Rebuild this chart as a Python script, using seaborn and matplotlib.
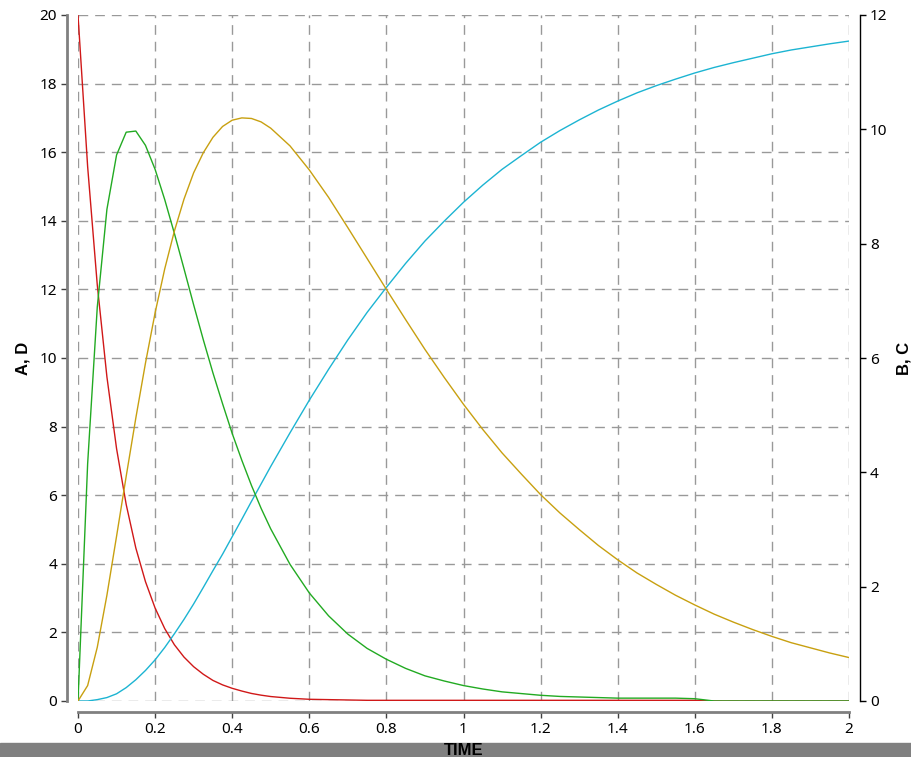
import matplotlib
matplotlib.use("Agg")
import matplotlib.pyplot as plt
from matplotlib.patches import Rectangle
import seaborn as sns
import pandas as pd

# sample times
time = [0, 0.025, 0.05, 0.075, 0.1, 0.125, 0.15, 0.175, 0.2, 0.225, 0.25,
        0.275, 0.3, 0.325, 0.35, 0.375, 0.4, 0.425, 0.45, 0.475, 0.5,
        0.55, 0.6, 0.65, 0.7, 0.75, 0.8, 0.85, 0.9, 0.95, 1.0,
        1.05, 1.1, 1.15, 1.2, 1.25, 1.3, 1.35, 1.4, 1.45, 1.5,
        1.55, 1.6, 1.65, 1.7, 1.75, 1.8, 1.85, 1.9, 1.95, 2.0]

# left axis (A, D)
conc_a = [20.0, 15.58, 12.13, 9.45, 7.36, 5.73, 4.46, 3.48, 2.71, 2.11, 1.64,
          1.28, 1.00, 0.78, 0.60, 0.47, 0.37, 0.29, 0.22, 0.17, 0.13,
          0.08, 0.05, 0.04, 0.03, 0.02, 0.02, 0.02, 0.02, 0.02, 0.02,
          0.02, 0.02, 0.02, 0.02, 0.02, 0.02, 0.02, 0.02, 0.02, 0.02,
          0.02, 0.02, 0.0, 0.0, 0.0, 0.0, 0.0, 0.0, 0.0, 0.0]
conc_d = [0.0, 0.0, 0.04, 0.10, 0.21, 0.39, 0.62, 0.89, 1.20, 1.56, 1.96,
          2.38, 2.83, 3.31, 3.80, 4.28, 4.79, 5.30, 5.82, 6.33, 6.84,
          7.82, 8.77, 9.67, 10.53, 11.33, 12.06, 12.76, 13.41, 13.99, 14.54,
          15.04, 15.50, 15.90, 16.29, 16.63, 16.94, 17.23, 17.49, 17.73, 17.94,
          18.13, 18.31, 18.47, 18.61, 18.74, 18.87, 18.98, 19.07, 19.16, 19.24]

# right axis (B, C)
conc_b = [0.0, 4.15, 6.89, 8.60, 9.55, 9.95, 9.97, 9.72, 9.30, 8.77, 8.18,
          7.56, 6.93, 6.32, 5.74, 5.20, 4.68, 4.21, 3.77, 3.37, 3.01,
          2.39, 1.89, 1.49, 1.17, 0.92, 0.73, 0.57, 0.44, 0.35, 0.27,
          0.21, 0.16, 0.13, 0.10, 0.08, 0.07, 0.06, 0.05, 0.05, 0.05,
          0.05, 0.04, 0.0, 0.0, 0.0, 0.0, 0.0, 0.0, 0.0, 0.0]
conc_c = [0.0, 0.27, 0.94, 1.85, 2.88, 3.93, 4.95, 5.91, 6.79, 7.56, 8.22,
          8.78, 9.24, 9.59, 9.86, 10.05, 10.16, 10.20, 10.19, 10.13, 10.02,
          9.71, 9.29, 8.81, 8.28, 7.74, 7.20, 6.67, 6.15, 5.66, 5.19,
          4.75, 4.34, 3.97, 3.61, 3.29, 3.00, 2.72, 2.47, 2.24, 2.04,
          1.85, 1.68, 1.52, 1.38, 1.25, 1.13, 1.02, 0.93, 0.84, 0.76]

x_ticks = [0, 0.2, 0.4, 0.6, 0.8, 1, 1.2, 1.4, 1.6, 1.8, 2]
x_labels = ["0", "0.2", "0.4", "0.6", "0.8", "1", "1.2", "1.4", "1.6", "1.8", "2"]
left_ticks = [0, 2, 4, 6, 8, 10, 12, 14, 16, 18, 20]
right_ticks = [0, 2, 4, 6, 8, 10, 12]

sns.set_style("white")
plt.rcParams['font.family'] = ['Noto Sans', 'DejaVu Sans']
plt.rcParams['text.color'] = 'black'
plt.rcParams['axes.labelcolor'] = 'black'
plt.rcParams['xtick.color'] = 'black'
plt.rcParams['ytick.color'] = 'black'

df = pd.DataFrame({"TIME": time, "A": conc_a, "B": conc_b, "C": conc_c, "D": conc_d})

fig = plt.figure(figsize=(9.11, 7.57), dpi=100)
ax = fig.add_axes([78 / 911, 1 - 701 / 757, 771 / 911, 686 / 757])
ax2 = ax.twinx()

sns.lineplot(data=df, x="TIME", y="A", ax=ax, color="#d01818", linewidth=1.0)
sns.lineplot(data=df, x="TIME", y="D", ax=ax, color="#1cb4d2", linewidth=1.0)
sns.lineplot(data=df, x="TIME", y="B", ax=ax2, color="#22aa22", linewidth=1.0)
sns.lineplot(data=df, x="TIME", y="C", ax=ax2, color="#c8a010", linewidth=1.0)

ax.set_xlim(0, 2)
ax.set_ylim(0, 20)
ax2.set_ylim(0, 12)
ax.set_xticks(x_ticks)
ax.set_xticklabels(x_labels)
ax.set_yticks(left_ticks)
ax2.set_yticks(right_ticks)

ax.grid(True, color="#999999", linestyle=(0, (7, 5)), linewidth=1.0)
ax2.grid(False)

for s in ["top", "right"]:
    ax.spines[s].set_visible(False)
for s in ["top", "left", "bottom"]:
    ax2.spines[s].set_visible(False)
ax.spines["left"].set_position(("outward", 8))
ax.spines["bottom"].set_position(("outward", 8))
ax.spines["left"].set_color("#808080")
ax.spines["bottom"].set_color("#808080")
ax.spines["left"].set_linewidth(2)
ax.spines["bottom"].set_linewidth(2)
ax2.spines["right"].set_position(("outward", 8))
ax2.spines["right"].set_color("black")
ax2.spines["right"].set_linewidth(1)

ax.tick_params(axis="both", direction="out", length=4, width=1, color="#404040",
               labelsize=11, pad=3, left=True, bottom=True)
ax2.tick_params(axis="y", direction="out", length=4, width=1, color="black",
                labelsize=11, pad=3, right=True)

ax.set_xlabel("TIME", fontsize=12, fontweight="bold", family="Liberation Sans")
ax.set_ylabel("A, D", fontsize=12, fontweight="bold", family="Liberation Sans")
ax2.set_ylabel("B, C", fontsize=12, fontweight="bold", family="Liberation Sans")
ax.xaxis.set_label_coords(0.5, -0.061)
ax.yaxis.set_label_coords(-0.062, 0.5)
ax2.yaxis.set_label_coords(1.061, 0.5)

# gray strip along the bottom edge, under the axes
fig.patches.append(Rectangle((0, 0), 1, 14 / 757, transform=fig.transFigure,
                             color="#808080", zorder=-1))

fig.savefig("out.png", dpi=100)
